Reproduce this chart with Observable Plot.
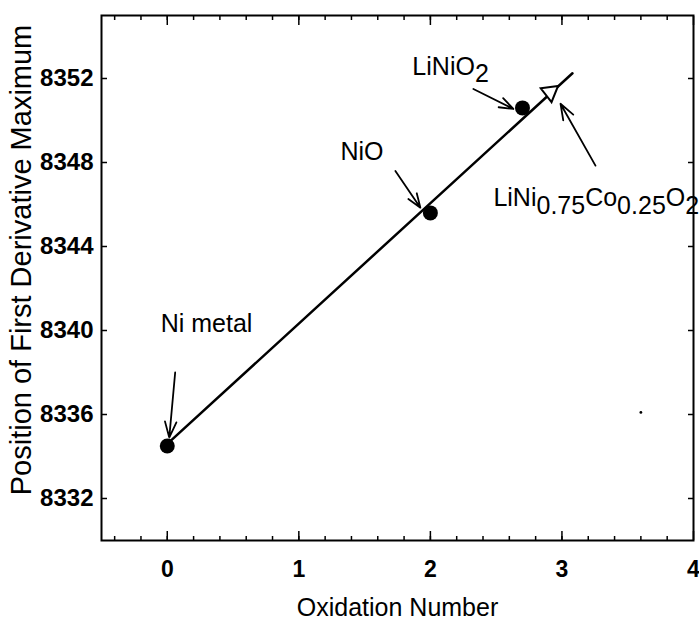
<!DOCTYPE html>
<html>
<head>
<meta charset="utf-8">
<script src="https://cdn.jsdelivr.net/npm/d3@7"></script>
<script src="https://cdn.jsdelivr.net/npm/@observablehq/plot@0.6"></script>
<style>
  html, body { margin: 0; padding: 0; background: #fff; }
  #chart svg { display: block; background: #fff; }
</style>
</head>
<body>
<div id="chart"></div>
<script>
// Reference compounds: nickel oxidation number vs. position of the
// first-derivative maximum of the Ni K edge (eV).
const samples = ["Ni metal", "NiO", "LiNiO2"];
const oxidation = [0, 2, 2.7];
const edgePosition = [8334.5, 8345.6, 8350.6];

// Mixed Ni/Co oxide placed on the calibration line
const mixedOxidation = [2.91];
const mixedEdge = [8351.35];

// Linear calibration line (end points)
const fitX = [0, 3.08];
const fitY = [8334.6, 8352.25];

// Small speck inside the frame
const speckX = [3.6];
const speckY = [8336.1];

// Axis ticks
const xTicks = [0, 1, 2, 3, 4];
const xMinor = d3.range(-0.4, 4, 0.2).map(v => +v.toFixed(1));
const yTicks = [8332, 8336, 8340, 8344, 8348, 8352];

// Annotation labels ({...} marks a subscript) and their arrows
const labelNames = ["Ni metal", "NiO", "LiNiO{2}", "LiNi{0.75}Co{0.25}O{2}"];
const labelX = [-0.05, 1.316, 1.863, 2.479];
const labelY = [8340.3, 8348.5, 8352.55, 8346.3];
const arrowFromX = [0.06, 1.734, 2.327, 3.255];
const arrowFromY = [8338.0, 8347.6, 8351.5, 8347.85];
const arrowToX = [0.015, 1.924, 2.631, 2.989];
const arrowToY = [8334.9, 8345.85, 8350.55, 8350.8];

const points = samples.map((s, i) => ({sample: s, x: oxidation[i], y: edgePosition[i]}));
const mixed = mixedOxidation.map((x, i) => ({x, y: mixedEdge[i]}));
const fit = fitX.map((x, i) => ({x, y: fitY[i]}));
const specks = speckX.map((x, i) => ({x, y: speckY[i]}));
const labels = labelNames.map((t, i) => ({t, x: labelX[i], y: labelY[i]}));
const arrows = arrowFromX.map((x1, i) => ({x1, y1: arrowFromY[i], x2: arrowToX[i], y2: arrowToY[i]}));

const font = "'Liberation Sans', Arial, Helvetica, sans-serif";
const noLabel = () => "";

const chart = Plot.plot({
  width: 699,
  height: 627,
  marginTop: 15,
  marginRight: 6,
  marginBottom: 87,
  marginLeft: 101,
  style: {fontFamily: font, color: "#000", background: "#fff"},
  x: {domain: [-0.5, 4]},
  y: {domain: [8330, 8355]},
  marks: [
    Plot.frame({stroke: "#000", strokeWidth: 2}),
    // inward tick marks on all four sides
    Plot.axisX(xMinor, {anchor: "bottom", tickSize: -4, strokeWidth: 1.5, tickFormat: noLabel, label: null}),
    Plot.axisX(xTicks, {anchor: "bottom", tickSize: -9, strokeWidth: 1.5, tickFormat: noLabel, label: null}),
    Plot.axisX(xMinor, {anchor: "top", tickSize: -4, strokeWidth: 1.5, tickFormat: noLabel, label: null}),
    Plot.axisX(xTicks, {anchor: "top", tickSize: -9, strokeWidth: 1.5, tickFormat: noLabel, label: null}),
    Plot.axisY(yTicks, {anchor: "left", tickSize: -6, strokeWidth: 1.5, tickFormat: noLabel, label: null}),
    Plot.axisY(yTicks, {anchor: "right", tickSize: -6, strokeWidth: 1.5, tickFormat: noLabel, label: null}),
    // tick labels
    Plot.axisX(xTicks, {anchor: "bottom", tickSize: 0, tickPadding: 20, fontSize: 23, fontWeight: "bold", label: null, tickFormat: d => String(d)}),
    Plot.axisY(yTicks, {anchor: "left", tickSize: 0, tickPadding: 8, fontSize: 24, fontWeight: "bold", letterSpacing: "-1.5px", label: null, tickFormat: d => String(d)}),
    // axis titles (tight, condensed lettering)
    Plot.text(["Oxidation Number"], {frameAnchor: "bottom", textAnchor: "middle", lineAnchor: "middle", dy: 67, fontSize: 25, letterSpacing: "-1.4px"}),
    Plot.text(["Position of First Derivative Maximum"], {frameAnchor: "left", textAnchor: "middle", lineAnchor: "middle", dx: -80, dy: -18, rotate: -90, fontSize: 29, letterSpacing: "-0.3px"}),
    // calibration line and data
    Plot.line(fit, {x: "x", y: "y", stroke: "#000", strokeWidth: 2.5}),
    Plot.dot(points, {x: "x", y: "y", r: 7.5, fill: "#000", stroke: "none"}),
    Plot.dot(mixed, {x: "x", y: "y", symbol: "triangle", r: 6.5, rotate: 172, fill: "#fff", stroke: "#000", strokeWidth: 2}),
    Plot.dot(specks, {x: "x", y: "y", r: 1.4, fill: "#000", stroke: "none"}),
    // annotations
    Plot.arrow(arrows, {x1: "x1", y1: "y1", x2: "x2", y2: "y2", stroke: "#000", strokeWidth: 1.8, headLength: 14, headAngle: 40}),
    Plot.text(labels, {x: "x", y: "y", text: "t", textAnchor: "start", fontSize: 25, letterSpacing: "-1px"})
  ]
});

// Turn {...} segments of the sample labels into lowered subscripts
d3.select(chart).selectAll("text").each(function() {
  const s = this.textContent;
  if (!s.includes("{")) return;
  const parts = s.split(/(\{[^}]*\})/).filter(p => p.length);
  const el = d3.select(this);
  el.text(null);
  let lowered = false;
  for (const p of parts) {
    const sub = p.startsWith("{");
    const ts = el.append("tspan").text(sub ? p.slice(1, -1) : p);
    if (sub && !lowered) { ts.attr("dy", "0.3em"); lowered = true; }
    else if (!sub && lowered) { ts.attr("dy", "-0.3em"); lowered = false; }
  }
});

document.getElementById("chart").appendChild(chart);
</script>
</body>
</html>
